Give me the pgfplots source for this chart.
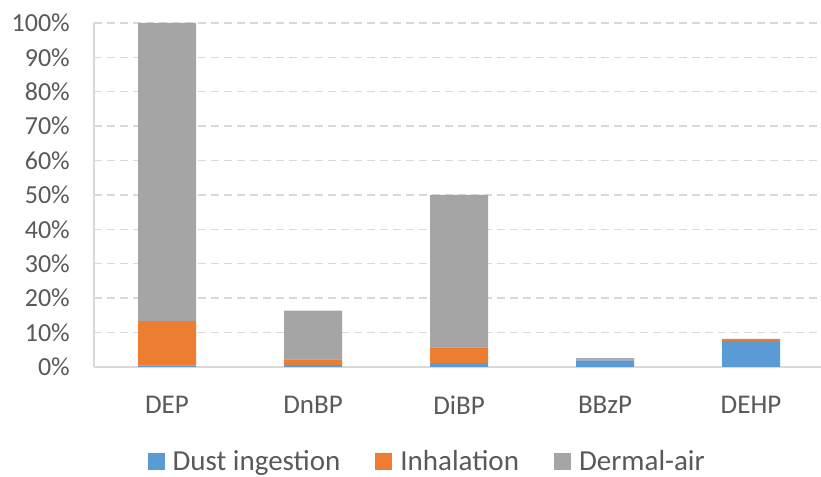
\documentclass[border=0pt]{standalone}
\usepackage{fontspec}
\setmainfont{Carlito}
\usepackage{pgfplots}
\pgfplotsset{compat=1.18}
\definecolor{cblue}{HTML}{5B9BD5}
\definecolor{corange}{HTML}{ED7D31}
\definecolor{cgray}{HTML}{A5A5A5}
\definecolor{gridc}{HTML}{D9D9D9}
\definecolor{txt}{HTML}{595959}
\begin{document}
\begin{tikzpicture}
\path[use as bounding box] (0,0) rectangle (821bp,477bp);
\begin{axis}[
  at={(94bp,110bp)}, anchor=south west,
  scale only axis, width=730bp, height=344bp,
  ybar stacked, bar width=58bp,
  xmin=-0.5, xmax=4.5, ymin=0, ymax=100,
  xtick={0,1,2,3,4}, xticklabels={DEP,DnBP,DiBP,BBzP,DEHP},
  ytick={0,10,20,30,40,50,60,70,80,90,100},
  yticklabels={0\%,10\%,20\%,30\%,40\%,50\%,60\%,70\%,80\%,90\%,100\%},
  axis x line*=bottom, axis y line*=left,
  x axis line style={gridc, line width=1.4bp},
  y axis line style={gridc, line width=1.4bp},
  major tick length=0pt,
  ymajorgrids,
  grid style={gridc, line width=1.4bp, dash pattern=on 8bp off 5bp},
  xticklabel style={font=\fontsize{27bp}{32bp}\selectfont, text=txt, anchor=north, inner sep=0pt, yshift=-29bp},
  yticklabel style={font=\fontsize{26bp}{31bp}\selectfont, text=txt, anchor=east, inner sep=0pt, xshift=-24bp},
  legend columns=3,
  legend image code/.code={\fill[#1,draw=none] (0bp,-8.5bp) rectangle (17bp,8.5bp);},
  legend style={at={(0.455,-0.274)}, anchor=center, draw=none, fill=none, inner sep=0pt,
    font=\fontsize{29bp}{34bp}\selectfont, text=txt, column sep=8bp,
    nodes={inner sep=0pt},
    /tikz/every even column/.append style={column sep=35bp}},
]
\addplot+[fill=cblue, draw=none] coordinates {(0,0.4) (1,0.6) (2,1.1) (3,1.9) (4,7.5)};
\addplot+[fill=corange, draw=none] coordinates {(0,12.9) (1,1.6) (2,4.6) (3,0.3) (4,0.6)};
\addplot+[fill=cgray, draw=none] coordinates {(0,86.7) (1,14.2) (2,44.3) (3,0.4) (4,0.05)};
\legend{Dust ingestion, Inhalation, Dermal-air}
\end{axis}
\end{tikzpicture}
\end{document}
